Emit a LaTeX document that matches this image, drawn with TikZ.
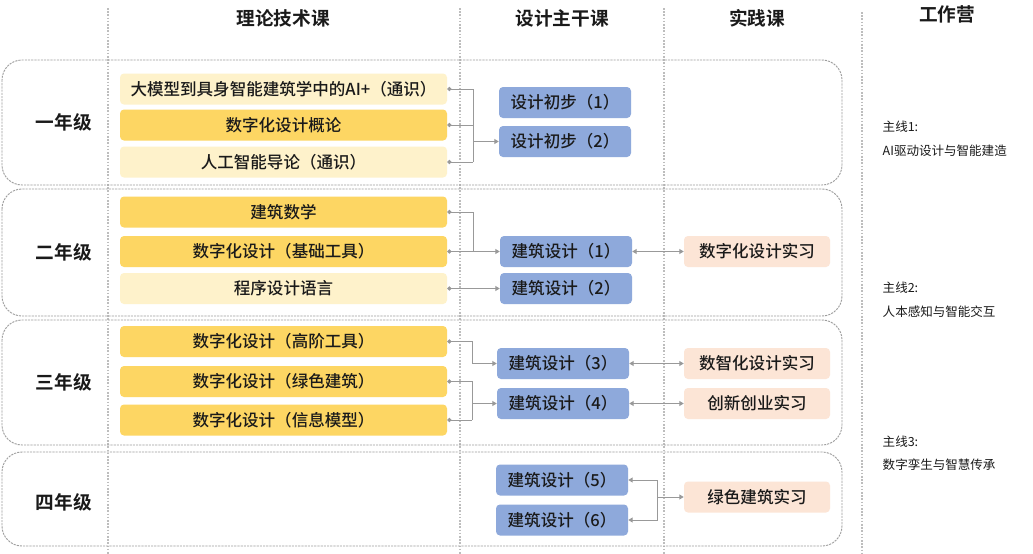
\documentclass[tikz,border=0pt]{standalone}
\usepackage{fontspec}
\setmainfont{Noto Sans CJK SC}[BoldFont={Noto Sans CJK SC Bold}]
\newfontfamily\medfont{Noto Sans CJK SC Medium}
\usetikzlibrary{arrows.meta}
\definecolor{lightyel}{HTML}{FEF2CB}
\definecolor{yel}{HTML}{FDD663}
\definecolor{blu}{HTML}{8EA9DB}
\definecolor{peach}{HTML}{FCE5D6}
\definecolor{linegray}{HTML}{999999}
\definecolor{framegray}{HTML}{9E9E9E}
\definecolor{colgray}{HTML}{BDBDBD}
\definecolor{txt}{HTML}{1A1A1A}
\tikzset{
  box/.style={rounded corners=3pt, minimum height=23.25pt, inner sep=0pt, text=txt,
    font=\medfont\fontsize{12.4}{14}\selectfont},
  theory/.style={box, minimum width=245.25pt},
  core/.style={theory, fill=yel},
  general/.style={theory, fill=lightyel},
  design/.style={box, fill=blu, minimum width=99pt},
  practice/.style={box, fill=peach, minimum width=109.5pt},
  header/.style={text=txt, font=\bfseries\fontsize{14}{16}\selectfont},
  yearlabel/.style={text=txt, font=\bfseries\fontsize{14}{16}\selectfont},
  yearframe/.style={draw=framegray, line width=0.7pt, dash pattern=on 1.6pt off 0.8pt, rounded corners=15pt},
  colline/.style={draw=colgray, line width=0.9pt, dash pattern=on 1.2pt off 1.2pt},
  wire/.style={draw=linegray, line width=0.75pt},
  dotwire/.style={wire, {Circle[length=3.2pt]}-},
  dotarr/.style={wire, {Circle[length=3.2pt]}-{Triangle[length=3.2pt,width=3.6pt]}},
  arr/.style={wire, -{Triangle[length=3.2pt,width=3.6pt]}},
  darr/.style={wire, {Triangle[length=3.2pt,width=3.6pt]}-{Triangle[length=3.2pt,width=3.6pt]}},
  side/.style={text=txt, anchor=west, font=\fontsize{9.4}{11}\selectfont}
}
\begin{document}
\begin{tikzpicture}[x=0.75pt,y=-0.75pt]
\useasboundingbox[fill=white] (0,0) rectangle (1033,554);
% column separators
\draw[colline] (108,8) -- (108,554);
\draw[colline] (460,8) -- (460,554);
\draw[colline] (664,8) -- (664,554);
\draw[colline] (862,12) -- (862,554);
% year frames
\draw[yearframe] (2,60) rectangle (842,185);
\draw[yearframe] (2,189) rectangle (842,316);
\draw[yearframe] (2,320) rectangle (842,445);
\draw[yearframe] (2,452) rectangle (842,546);
% headers
\node[header] (h1) at (283,18) {理论技术课};
\node[header] (h2) at (562,18) {设计主干课};
\node[header] (h3) at (757,18) {实践课};
\node[header] (h4) at (947,14) {工作营};
% year labels
\node[yearlabel] (y1) at (64,122) {一年级};
\node[yearlabel] (y2) at (64,252) {二年级};
\node[yearlabel] (y3) at (64,382) {三年级};
\node[yearlabel] (y4) at (64,502) {四年级};
% theory courses
\node[general] (t11) at (283.5,89) {大模型到具身智能建筑学中的AI+（通识）};
\node[core]    (t12) at (283.5,125) {数字化设计概论};
\node[general] (t13) at (283.5,162) {人工智能导论（通识）};
\node[core]    (t21) at (283.5,212) {建筑数学};
\node[core]    (t22) at (283.5,251.5) {数字化设计（基础工具）};
\node[general] (t23) at (283.5,288.5) {程序设计语言};
\node[core]    (t31) at (283.5,341.5) {数字化设计（高阶工具）};
\node[core]    (t32) at (283.5,381.5) {数字化设计（绿色建筑）};
\node[core]    (t33) at (283.5,420) {数字化设计（信息模型）};
% design courses
\node[design] (d11) at (565,102.5) {设计初步（1）};
\node[design] (d12) at (565,141.5) {设计初步（2）};
\node[design] (d21) at (566,251.5) {建筑设计（1）};
\node[design] (d22) at (566,288.5) {建筑设计（2）};
\node[design] (d31) at (563,363.5) {建筑设计（3）};
\node[design] (d32) at (563,403.5) {建筑设计（4）};
\node[design] (d41) at (562,480) {建筑设计（5）};
\node[design] (d42) at (562,520) {建筑设计（6）};
% practice courses
\node[practice] (p2) at (757,251.5) {数字化设计实习};
\node[practice] (p31) at (757,363.5) {数智化设计实习};
\node[practice] (p32) at (757,403.5) {创新创业实习};
\node[practice] (p4) at (757,497) {绿色建筑实习};
% workshop lines
\node[side] (m1a) at (878,127) {主线1:};
\node[side] (m1b) at (878,151) {AI驱动设计与智能建造};
\node[side] (m2a) at (878,288) {主线2:};
\node[side] (m2b) at (878,312) {人本感知与智能交互};
\node[side] (m3a) at (878,442) {主线3:};
\node[side] (m3b) at (878,465) {数字孪生与智慧传承};
% junction coordinates
\coordinate (j1) at (473,141.5);
\coordinate (j2) at (473,251.5);
\coordinate (j3a) at (472,363.5);
\coordinate (j3b) at (472,403.5);
\coordinate (j4) at (657,497);
% year 1 connectors
\draw[dotwire] (t11.east) -- (t11.east -| j1) -- (t13.east -| j1);
\draw[dotwire] (t12.east) -- (t12.east -| j1);
\draw[dotwire] (t13.east) -- (t13.east -| j1);
\draw[arr] (j1) -- (d12.west);
% year 2 connectors
\draw[dotwire] (t21.east) -| (j2);
\draw[dotarr] (t22.east) -- (d21.west);
\draw[dotarr] (t23.east) -- (d22.west);
\draw[darr] (d21.east) -- (p2.west);
% year 3 connectors
\draw[dotarr] (t31.east) -- (t31.east -| j3a) -- (j3a) -- (d31.west);
\draw[dotwire] (t32.east) -- (t32.east -| j3b) -- (t33.east -| j3b);
\draw[dotwire] (t33.east) -- (t33.east -| j3b);
\draw[arr] (j3b) -- (d32.west);
\draw[darr] (d31.east) -- (p31.west);
\draw[darr] (d32.east) -- (p32.west);
% year 4 connectors
\draw[arr] (j4) |- (d41.east);
\draw[arr] (j4) |- (d42.east);
\draw[arr] (j4) -- (p4.west);
\end{tikzpicture}
\end{document}
